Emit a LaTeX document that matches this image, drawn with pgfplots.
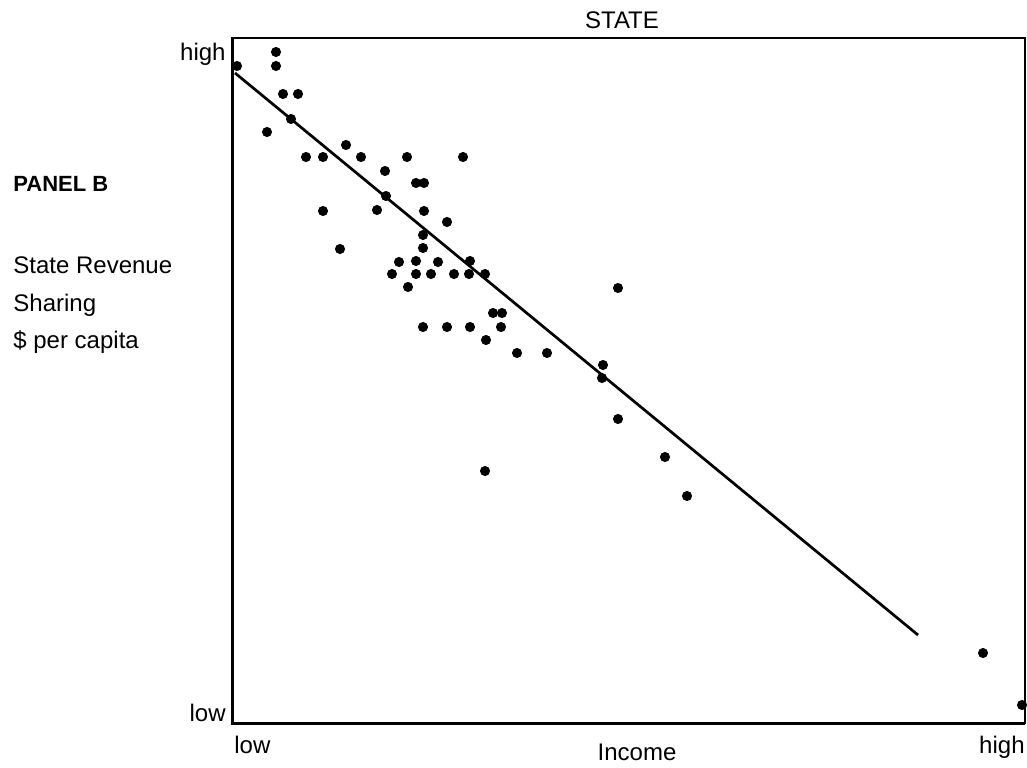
\documentclass[border=0pt]{standalone}
\usepackage{pgfplots}
\pgfplotsset{compat=1.18}
\usepackage{fontspec}
\setmainfont{Liberation Sans}
\begin{document}
\begin{tikzpicture}
\begin{axis}[
  at={(0pt,0pt)}, anchor=south west,
  width=396.5pt, height=342.5pt, scale only axis,
  xmin=0, xmax=793, ymin=0, ymax=685,
  xtick=\empty, ytick=\empty,
  axis line style={line width=1.1pt},
  clip=false,
]
\addplot[only marks, mark=*, mark size=2.3pt, black] coordinates {
(5,657) (44,671) (44,657) (51,629) (66,629) (59,604) (35,591) (114,578)
(74,566) (91,566) (129,566) (175,566) (231,566) (153,552) (184,540) (192,540)
(154,527) (91,512) (145,513) (192,512) (215,501) (191,488) (191,475) (108,474)
(167,461) (184,462) (206,461) (238,462) (160,449) (184,449) (199,449) (222,449)
(237,449) (253,449) (176,436) (386,435) (261,410) (270,410) (191,396) (215,396)
(238,396) (269,396) (254,383) (285,370) (315,370) (371,358) (370,345) (386,304)
(433,266) (253,252) (455,227) (751,70) (790,18)
};
\addplot[black, line width=1.35pt] coordinates {(3,650) (686,88)};
\end{axis}
\draw[line width=1.5pt] (0pt,342.5pt) -- (0pt,0pt) -- (396.5pt,0pt);
\begin{scope}[every node/.style={inner sep=0pt, font=\fontsize{12}{14}\selectfont}]
\node[anchor=base] at (195pt,347pt) {STATE};
\node[anchor=base east] at (-3pt,331pt) {high};
\node[anchor=base east] at (-3pt,1pt) {low};
\node[anchor=base west] at (1pt,-15pt) {low};
\node[anchor=base east] at (396.5pt,-15pt) {high};
\node[anchor=base] at (202.5pt,-18.5pt) {Income};
\node[anchor=base west, font=\fontsize{11}{13}\selectfont\bfseries] at (-109.5pt,265.7pt) {PANEL B};
\node[anchor=base west] at (-109.5pt,224.8pt) {State Revenue};
\node[anchor=base west] at (-109.5pt,205.7pt) {Sharing};
\node[anchor=base west] at (-109.5pt,187.3pt) {\$ per capita};
\end{scope}
\pgfresetboundingbox
\path[use as bounding box] (-116pt,-22pt) rectangle (397.5pt,361.5pt);
\end{tikzpicture}
\end{document}
